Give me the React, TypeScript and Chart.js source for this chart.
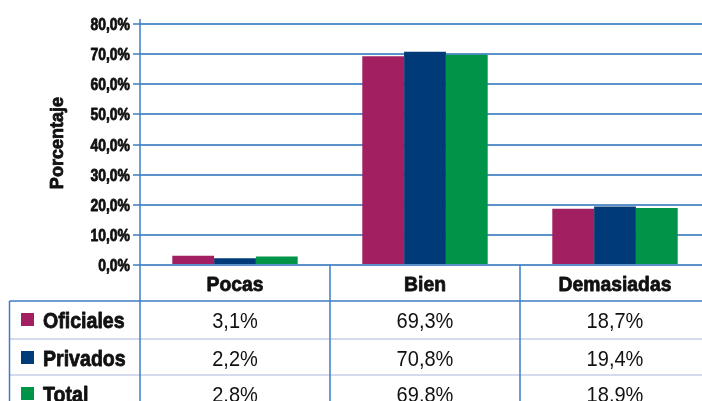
import React, { useEffect, useRef } from "react";
import { Chart, registerables } from "chart.js";

Chart.register(...registerables);

const categories = ["Pocas", "Bien", "Demasiadas"];
const seriesNames = ["Oficiales", "Privados", "Total"];
const oficiales = [3.1, 69.3, 18.7];
const privados = [2.2, 70.8, 19.4];
const total = [2.8, 69.8, 18.9];
const seriesValues = [oficiales, privados, total];
const seriesColors = ["#a21f62", "#003a78", "#009448"];
const yMin = 0;
const yMax = 80;
const yStep = 10;
const yAxisTitle = "Porcentaje";

const FONT = '"Liberation Sans", Arial, sans-serif';
const BLUE = "#3d7ec4";
const GRID = "#5b92cb";
const LAVENDER = "#d5dbee";
const INK = "#111";

const fmt = (v: number) => v.toFixed(1).replace(".", ",") + "%";

function txt(
  ctx: CanvasRenderingContext2D,
  s: string,
  x: number,
  y: number,
  font: string,
  align: CanvasTextAlign,
  sx: number,
  heavy = false
) {
  ctx.save();
  ctx.translate(x, y);
  ctx.scale(sx, 1);
  ctx.font = font;
  ctx.textAlign = align;
  ctx.textBaseline = "alphabetic";
  ctx.fillStyle = INK;
  ctx.fillText(s, 0, 0);
  if (heavy) {
    ctx.strokeStyle = INK;
    ctx.lineWidth = 0.8;
    ctx.lineJoin = "round";
    ctx.strokeText(s, 0, 0);
  }
  ctx.restore();
}

const tablePlugin = {
  id: "dataTable",
  afterDraw(chart: any) {
    const { ctx, chartArea, scales } = chart;
    const xs = scales.x;
    const ys = scales.y;
    const W = chart.width;
    const H = chart.height;
    const left = chartArea.left;
    const bottom = chartArea.bottom;
    const headerBottom = bottom + 36;
    const rowTops = [headerBottom, headerBottom + 38, headerBottom + 74];
    const centers = categories.map((_, i) => xs.getPixelForValue(i));
    const bounds: number[] = [left];
    for (let i = 0; i < centers.length - 1; i++) bounds.push((centers[i] + centers[i + 1]) / 2);

    ctx.save();
    // y tick labels
    ys.ticks.forEach((t: any) => {
      const y = ys.getPixelForValue(t.value);
      txt(ctx, fmt(t.value), 130, y + 6, `bold 17px ${FONT}`, "right", 0.82, true);
    });

    // y axis title
    ctx.save();
    ctx.translate(63, 143);
    ctx.rotate(-Math.PI / 2);
    txt(ctx, yAxisTitle, 0, 0, `bold 19px ${FONT}`, "center", 0.95, true);
    ctx.restore();

    // lavender row separators
    ctx.strokeStyle = LAVENDER;
    ctx.lineWidth = 2;
    rowTops.slice(1).forEach((y) => {
      ctx.beginPath();
      ctx.moveTo(10, y);
      ctx.lineTo(W, y);
      ctx.stroke();
    });

    ctx.strokeStyle = BLUE;
    ctx.lineWidth = 1.5;
    // y axis line
    ctx.beginPath();
    ctx.moveTo(left, chartArea.top - 5);
    ctx.lineTo(left, H);
    ctx.stroke();
    // column separators
    bounds.slice(1).forEach((bx) => {
      ctx.beginPath();
      ctx.moveTo(bx, bottom);
      ctx.lineTo(bx, H);
      ctx.stroke();
    });
    // header bottom line
    ctx.beginPath();
    ctx.moveTo(9.5, headerBottom);
    ctx.lineTo(W, headerBottom);
    ctx.stroke();
    // left border
    ctx.beginPath();
    ctx.moveTo(9.5, headerBottom);
    ctx.lineTo(9.5, H);
    ctx.stroke();

    // headers
    categories.forEach((c, i) =>
      txt(ctx, c, centers[i], bottom + 26, `bold 21px ${FONT}`, "center", 0.92, true)
    );

    // rows
    seriesNames.forEach((name, r) => {
      const top = rowTops[r];
      ctx.fillStyle = seriesColors[r];
      ctx.fillRect(21, Math.round(top + 12), 13, 13);
      const base = top + 26.5;
      txt(ctx, name, 43, base, `bold 22px ${FONT}`, "left", 0.89, true);
      seriesValues[r].forEach((v, i) =>
        txt(ctx, fmt(v), centers[i], base, `22px ${FONT}`, "center", 0.91)
      );
    });
    ctx.restore();
  },
};

export default function App() {
  const ref = useRef<HTMLCanvasElement>(null);
  useEffect(() => {
    if (!ref.current) return;
    const chart = new Chart(ref.current, {
      type: "bar",
      data: {
        labels: categories,
        datasets: seriesNames.map((n, i) => ({
          label: n,
          data: seriesValues[i],
          backgroundColor: seriesColors[i],
          borderWidth: 0,
          categoryPercentage: 0.66,
          barPercentage: 1,
        })),
      },
      options: {
        animation: false,
        responsive: false,
        maintainAspectRatio: false,
        layout: { padding: { top: 24, right: 2, bottom: 136, left: 0 } },
        plugins: {
          legend: { display: false },
          tooltip: { enabled: false },
          title: { display: false },
        },
        scales: {
          x: { display: false, offset: true },
          y: {
            min: yMin,
            max: yMax,
            afterFit: (s: any) => {
              s.width = 140;
            },
            ticks: {
              display: false,
              stepSize: yStep,
            },
            grid: {
              color: GRID,
              lineWidth: 2,
              tickLength: 7,
              drawTicks: true,
              tickColor: BLUE,
              tickWidth: 1.5,
            },
            border: { display: false },
          },
        },
      },
      plugins: [tablePlugin],
    });
    return () => chart.destroy();
  }, []);
  return (
    <div style={{ position: "fixed", left: 0, top: 0, width: 712, height: 401, overflow: "hidden", background: "#fff" }}>
      <canvas ref={ref} width={712} height={401} style={{ width: 712, height: 401 }} />
    </div>
  );
}
